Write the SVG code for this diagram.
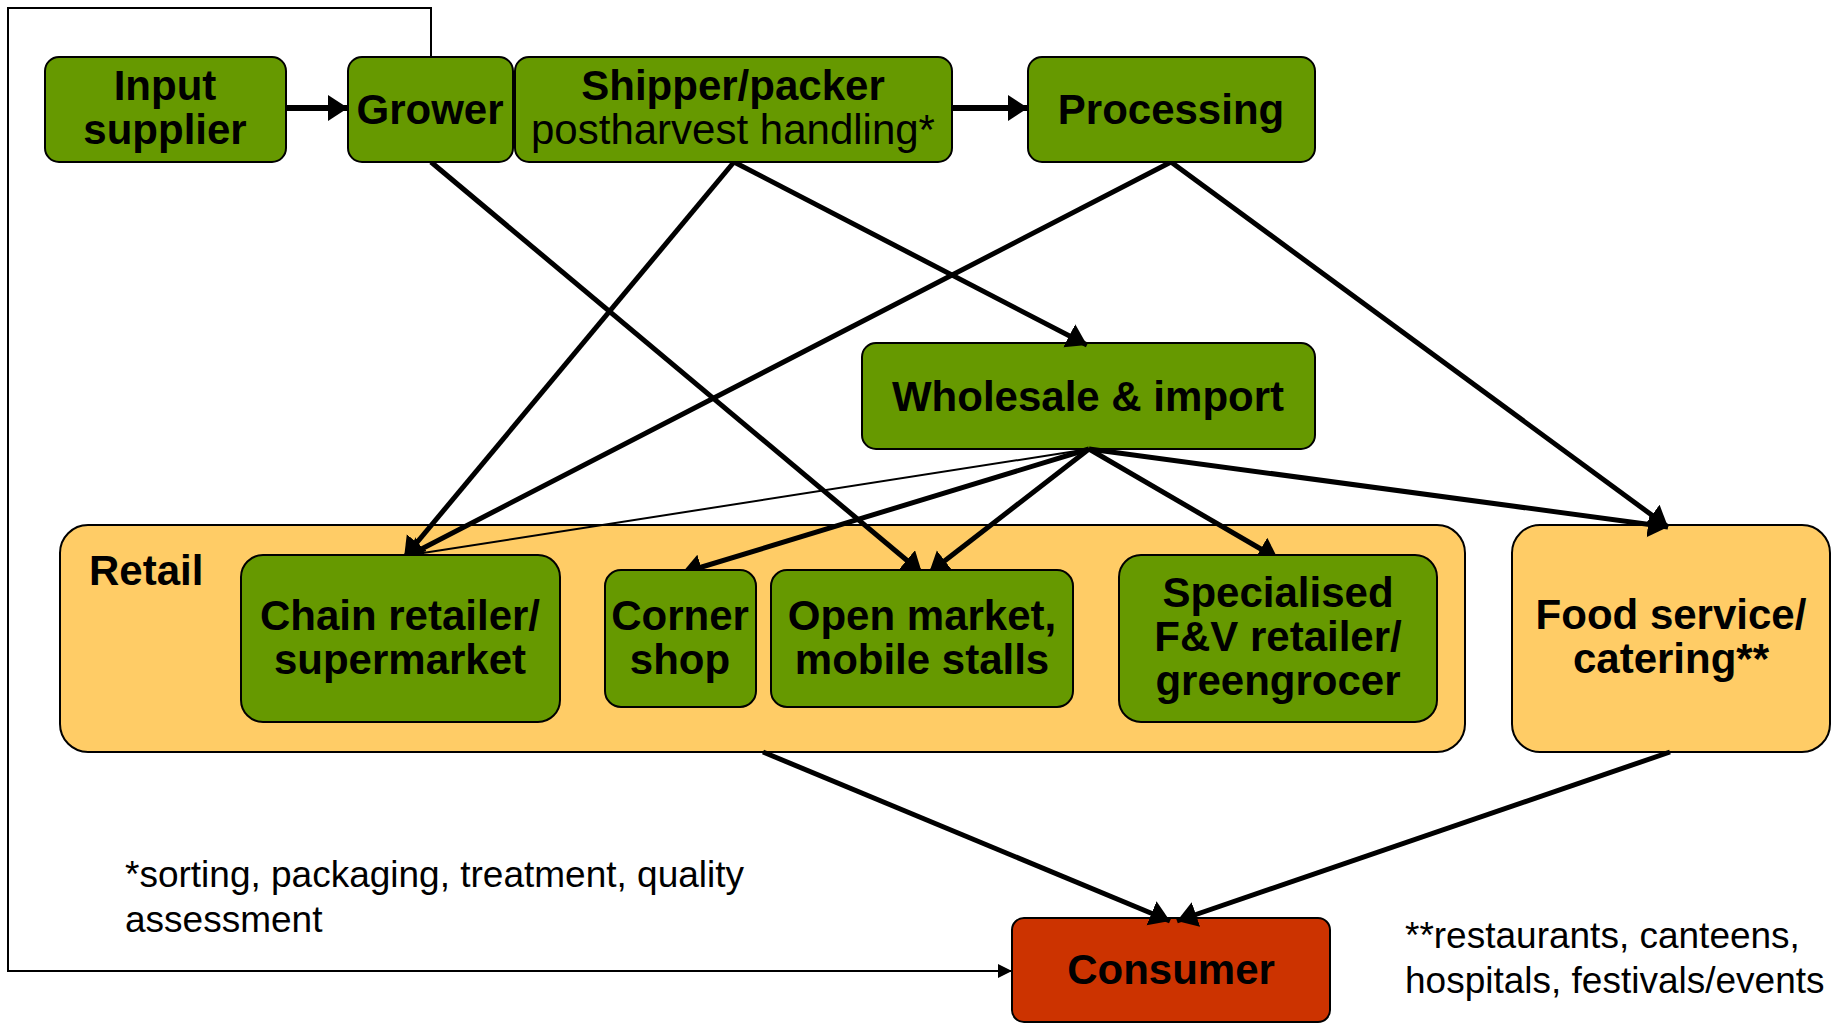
<svg xmlns="http://www.w3.org/2000/svg" width="1841" height="1024" viewBox="0 0 1841 1024">
  <style>
    .green { fill: #669900; stroke: #000; stroke-width: 2; }
    .amber { fill: #FFCC66; stroke: #000; stroke-width: 2; }
    .red { fill: #CC3300; stroke: #000; stroke-width: 2; }
    text { font-family: "Liberation Sans", Arial, sans-serif; fill: #000; }
    .b { font-size: 42px; font-weight: bold; text-anchor: middle; }
    .r { font-size: 42px; text-anchor: middle; }
    .note { font-size: 37px; }
    .flow { fill: none; stroke: #000; stroke-width: 5; marker-end: url(#head); }
    .flow-h { fill: none; stroke: #000; stroke-width: 6; marker-end: url(#head); }
    .thin { fill: none; stroke: #000; stroke-width: 2; }
    .loop { fill: none; stroke: #000; stroke-width: 2; marker-end: url(#headSmall); }
  </style>
  <defs>
    <marker id="head" markerUnits="userSpaceOnUse" markerWidth="22" markerHeight="28" refX="20" refY="13" orient="auto">
      <path d="M0,0 L20,13 L0,26 z" fill="#000"/>
    </marker>
    <marker id="headSmall" markerUnits="userSpaceOnUse" markerWidth="16" markerHeight="16" refX="14" refY="7" orient="auto">
      <path d="M0,0 L14,7 L0,14 z" fill="#000"/>
    </marker>
  </defs>

  <rect width="1841" height="1024" fill="#fff"/>

  <!-- containers below the flow lines -->
  <g id="retail">
    <rect class="amber" x="60" y="525" width="1405" height="227" rx="28" ry="28"/>
    <text class="b" x="89" y="585" style="text-anchor:start">Retail</text>
  </g>
  <g id="food-service">
    <rect class="amber" x="1512" y="525" width="318" height="227" rx="28" ry="28"/>
    <text class="b" x="1671" y="629">Food service/</text>
    <text class="b" x="1671" y="673">catering**</text>
  </g>
  <g id="consumer">
    <rect class="red" x="1012" y="918" width="318" height="104" rx="12" ry="12"/>
    <text class="b" x="1171" y="984">Consumer</text>
  </g>
  <g id="wholesale">
    <rect class="green" x="862" y="343" width="453" height="106" rx="14" ry="14"/>
    <text class="b" x="1088" y="411">Wholesale &amp; import</text>
  </g>

  <!-- flows -->
  <g id="connectors">
    <path class="loop" d="M431,57 V8 H8 V971 H1012"/>
    <path class="flow-h" d="M286,108 H348"/>
    <path class="flow-h" d="M952,108 H1028"/>
    <path class="flow" d="M431,162 L922,573"/>
    <path class="flow" d="M734,162 L404,558"/>
    <path class="flow" d="M734,162 L1087,345"/>
    <path class="flow" d="M1171,162 L404,558"/>
    <path class="flow" d="M1171,162 L1668,527"/>
    <path class="thin" d="M1089,449 L410,555"/>
    <path class="flow" d="M1089,449 L682,573"/>
    <path class="flow" d="M1089,449 L929,573"/>
    <path class="flow" d="M1089,449 L1278,559"/>
    <path class="flow" d="M1089,449 L1668,527"/>
    <path class="flow" d="M763,752 L1170,921"/>
    <path class="flow" d="M1670,752 L1177,921"/>
  </g>

  <!-- chain nodes -->
  <g id="input-supplier">
    <rect class="green" x="45" y="57" width="241" height="105" rx="14" ry="14"/>
    <text class="b" x="165" y="100">Input</text>
    <text class="b" x="165" y="144">supplier</text>
  </g>
  <g id="grower">
    <rect class="green" x="348" y="57" width="165" height="105" rx="14" ry="14"/>
    <text class="b" x="430" y="124">Grower</text>
  </g>
  <g id="shipper-packer">
    <rect class="green" x="515" y="57" width="437" height="105" rx="14" ry="14"/>
    <text class="b" x="733" y="100">Shipper/packer</text>
    <text class="r" x="733" y="144">postharvest handling*</text>
  </g>
  <g id="processing">
    <rect class="green" x="1028" y="57" width="287" height="105" rx="14" ry="14"/>
    <text class="b" x="1171" y="124">Processing</text>
  </g>

  <!-- retail outlets -->
  <g id="chain-retailer">
    <rect class="green" x="241" y="555" width="319" height="167" rx="22" ry="22"/>
    <text class="b" x="400" y="630">Chain retailer/</text>
    <text class="b" x="400" y="674">supermarket</text>
  </g>
  <g id="corner-shop">
    <rect class="green" x="605" y="570" width="151" height="137" rx="16" ry="16"/>
    <text class="b" x="680" y="630">Corner</text>
    <text class="b" x="680" y="674">shop</text>
  </g>
  <g id="open-market">
    <rect class="green" x="771" y="570" width="302" height="137" rx="16" ry="16"/>
    <text class="b" x="922" y="630">Open market,</text>
    <text class="b" x="922" y="674">mobile stalls</text>
  </g>
  <g id="specialised">
    <rect class="green" x="1119" y="555" width="318" height="167" rx="22" ry="22"/>
    <text class="b" x="1278" y="607">Specialised</text>
    <text class="b" x="1278" y="651">F&amp;V retailer/</text>
    <text class="b" x="1278" y="695">greengrocer</text>
  </g>

  <!-- footnotes -->
  <g id="notes">
    <text class="note" x="125" y="887">*sorting, packaging, treatment, quality</text>
    <text class="note" x="125" y="932">assessment</text>
    <text class="note" x="1405" y="948">**restaurants, canteens,</text>
    <text class="note" x="1405" y="993">hospitals, festivals/events</text>
  </g>
</svg>
